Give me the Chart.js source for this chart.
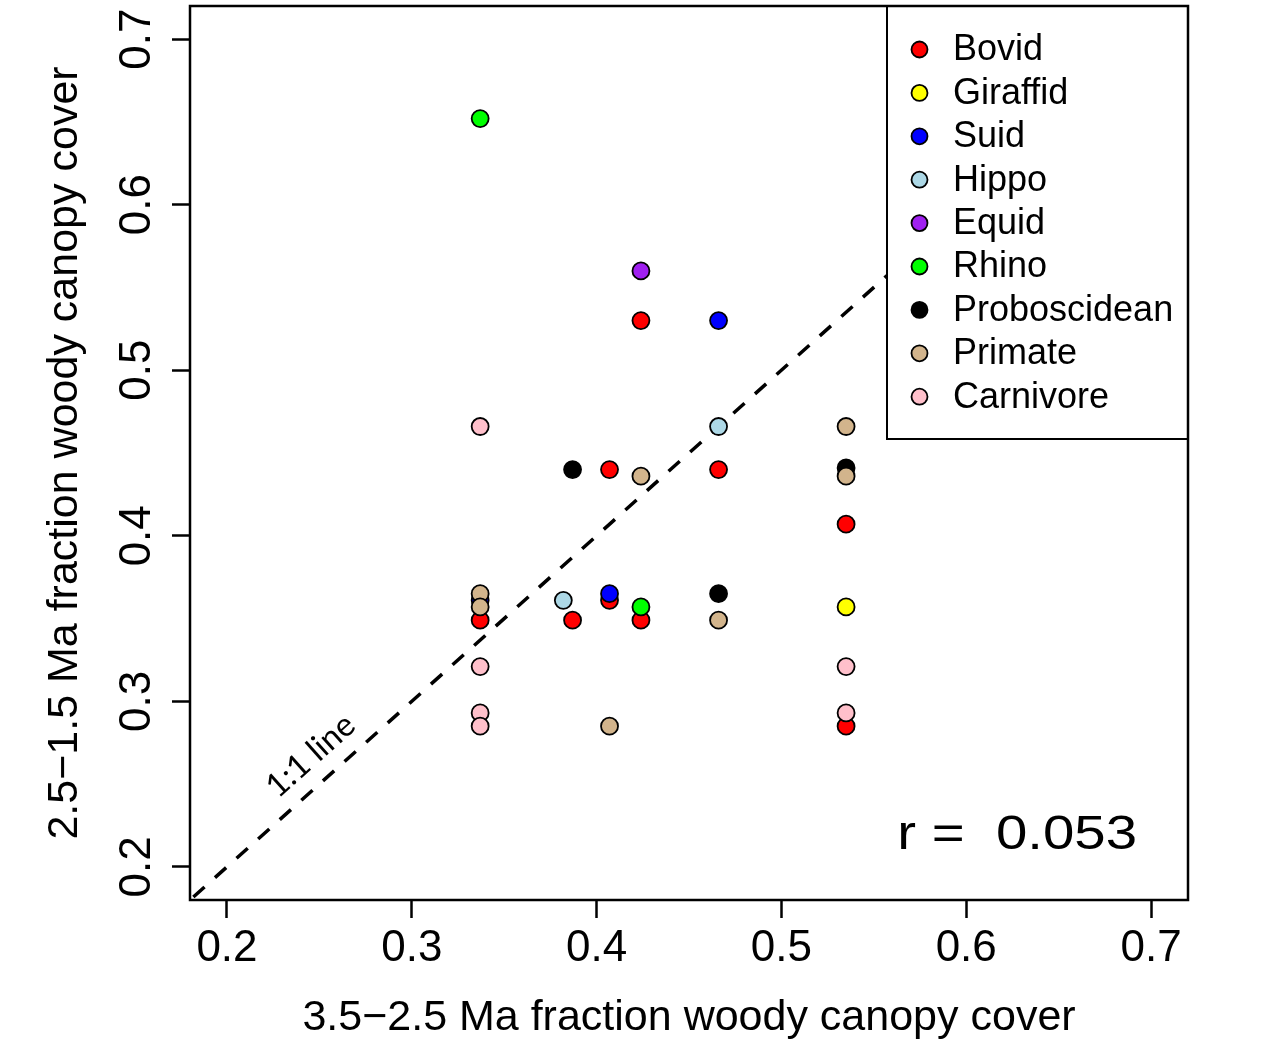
<!DOCTYPE html>
<html>
<head>
<meta charset="utf-8">
<script src="https://cdn.jsdelivr.net/npm/chart.js@4.4.1/dist/chart.umd.min.js"></script>
<style>
  html, body { margin: 0; padding: 0; background: #fff; }
  canvas { display: block; }
</style>
</head>
<body>
<canvas id="chart" width="1268" height="1062"></canvas>
<script>
const species = ['Bovid', 'Giraffid', 'Suid', 'Hippo', 'Equid', 'Rhino', 'Proboscidean', 'Primate', 'Carnivore'];
const colors = ['#FF0000', '#FFFF00', '#0000FF', '#ADD8E6', '#A020F0', '#00FF00', '#000000', '#D2B48C', '#FFC0CB'];

// x = 3.5-2.5 Ma woody cover, y = 2.5-1.5 Ma woody cover
const bovidX = [0.424, 0.407, 0.466, 0.535, 0.337, 0.387, 0.407, 0.424, 0.535];
const bovidY = [0.530, 0.440, 0.440, 0.407, 0.349, 0.349, 0.361, 0.349, 0.285];
const giraffidX = [0.535];
const giraffidY = [0.357];
const suidX = [0.466, 0.407, 0.337];
const suidY = [0.530, 0.365, 0.361];
const hippoX = [0.466, 0.382];
const hippoY = [0.466, 0.361];
const equidX = [0.424];
const equidY = [0.560];
const rhinoX = [0.337, 0.424];
const rhinoY = [0.652, 0.357];
const proboscideanX = [0.387, 0.535, 0.466];
const proboscideanY = [0.440, 0.441, 0.365];
const primateX = [0.535, 0.424, 0.535, 0.337, 0.337, 0.466, 0.407];
const primateY = [0.466, 0.436, 0.436, 0.365, 0.357, 0.349, 0.285];
const carnivoreX = [0.337, 0.337, 0.337, 0.337, 0.535, 0.535];
const carnivoreY = [0.466, 0.321, 0.293, 0.285, 0.321, 0.293];

const seriesX = [bovidX, giraffidX, suidX, hippoX, equidX, rhinoX, proboscideanX, primateX, carnivoreX];
const seriesY = [bovidY, giraffidY, suidY, hippoY, equidY, rhinoY, proboscideanY, primateY, carnivoreY];

const xTicks = [0.2, 0.3, 0.4, 0.5, 0.6, 0.7];
const yTicks = [0.2, 0.3, 0.4, 0.5, 0.6, 0.7];
const axisMin = 0.18;
const axisMax = 0.72;
const oneToOne = [0.1, 0.8];
const rText = 'r =  0.053';

const FONT = '"Liberation Sans", Arial, Helvetica, sans-serif';

const datasets = species.map((name, i) => ({
  label: name,
  data: seriesX[i].map((x, j) => ({ x, y: seriesY[i][j] })),
  backgroundColor: colors[i],
  borderColor: '#000',
  borderWidth: 1.8,
  pointRadius: 8.5,
  pointHoverRadius: 8.5,
  order: species.length - i,
}));

datasets.push({
  label: '1:1',
  data: oneToOne.map(v => ({ x: v, y: v })),
  showLine: true,
  borderColor: '#000',
  borderWidth: 3.5,
  borderDash: [15, 14],
  pointRadius: 0,
  order: 100,
});

const decorations = {
  id: 'decorations',
  afterDatasetsDraw(chart) {
    const { ctx, chartArea } = chart;
    const w = 301, h = 433;
    const left = chartArea.right - w, top = chartArea.top;
    ctx.save();
    ctx.fillStyle = '#fff';
    ctx.fillRect(left, top, w, h);
    ctx.lineWidth = 2;
    ctx.strokeStyle = '#000';
    ctx.strokeRect(left, top, w, h);
    ctx.font = `36px ${FONT}`;
    ctx.textBaseline = 'middle';
    species.forEach((name, i) => {
      const y = top + 43.5 + i * 43.4;
      ctx.beginPath();
      ctx.arc(left + 32.5, y, 8, 0, 2 * Math.PI);
      ctx.fillStyle = colors[i];
      ctx.fill();
      ctx.lineWidth = 1.8;
      ctx.stroke();
      ctx.fillStyle = '#000';
      ctx.fillText(name, left + 66, y + 1);
    });
    ctx.restore();
  },
  afterDraw(chart) {
    const { ctx, chartArea, scales: { x, y } } = chart;
    ctx.save();
    // plot frame
    ctx.lineWidth = 2.5;
    ctx.strokeStyle = '#000';
    ctx.strokeRect(chartArea.left, chartArea.top, chartArea.right - chartArea.left, chartArea.bottom - chartArea.top);

    // rotated y tick labels
    ctx.fillStyle = '#000';
    ctx.font = `44px ${FONT}`;
    ctx.textAlign = 'center';
    ctx.textBaseline = 'alphabetic';
    y.ticks.forEach(t => {
      ctx.save();
      ctx.translate(chartArea.left - 40, y.getPixelForValue(t.value));
      ctx.rotate(-Math.PI / 2);
      ctx.fillText(t.value.toFixed(1), 0, 0);
      ctx.restore();
    });

    // 1:1 line label
    const at = 0.255;
    const ang = Math.atan2(y.getPixelForValue(0.2) - y.getPixelForValue(0.7), x.getPixelForValue(0.7) - x.getPixelForValue(0.2));
    ctx.save();
    ctx.translate(x.getPixelForValue(at), y.getPixelForValue(at));
    ctx.rotate(-ang);
    ctx.font = '33px Lato, "Open Sans", sans-serif';
    ctx.textBaseline = 'middle';
    ctx.fillText('1:1 line', 0, -27);
    ctx.restore();

    // correlation
    ctx.save();
    ctx.translate(chartArea.right - 51, chartArea.bottom - 51);
    ctx.scale(1.15, 1);
    ctx.font = `49px ${FONT}`;
    ctx.textAlign = 'right';
    ctx.fillText(rText, 0, 0);
    ctx.restore();
    ctx.restore();
  },
};

new Chart(document.getElementById('chart').getContext('2d'), {
  type: 'scatter',
  data: { datasets },
  options: {
    responsive: false,
    animation: false,
    devicePixelRatio: 1,
    layout: { autoPadding: false, padding: { left: 0, top: 6, right: 80, bottom: 0 } },
    plugins: {
      legend: { display: false },
      tooltip: { enabled: false },
    },
    scales: {
      x: {
        type: 'linear',
        min: axisMin,
        max: axisMax,
        afterBuildTicks: s => { s.ticks = xTicks.map(v => ({ value: v })); },
        afterFit: s => { s.height = 162; },
        border: { display: false },
        grid: { drawOnChartArea: false, drawTicks: true, tickLength: 18, tickColor: '#000', tickWidth: 2.5 },
        ticks: {
          color: '#000',
          padding: 4,
          maxRotation: 0,
          font: { family: FONT, size: 44 },
          callback: v => v.toFixed(1),
        },
        title: {
          display: true,
          text: '3.5\u22122.5 Ma fraction woody canopy cover',
          color: '#000',
          font: { family: FONT, size: 43 },
          padding: { top: 0, bottom: 18 },
        },
      },
      y: {
        type: 'linear',
        min: axisMin,
        max: axisMax,
        afterBuildTicks: s => { s.ticks = yTicks.map(v => ({ value: v })); },
        afterFit: s => { s.width = 190; },
        border: { display: false },
        grid: { drawOnChartArea: false, drawTicks: true, tickLength: 18, tickColor: '#000', tickWidth: 2.5 },
        ticks: { display: false },
        title: {
          display: true,
          text: '2.5\u22121.5 Ma fraction woody canopy cover',
          color: '#000',
          font: { family: FONT, size: 43 },
          padding: { top: 39, bottom: 0 },
        },
      },
    },
  },
  plugins: [decorations],
});
</script>
</body>
</html>
